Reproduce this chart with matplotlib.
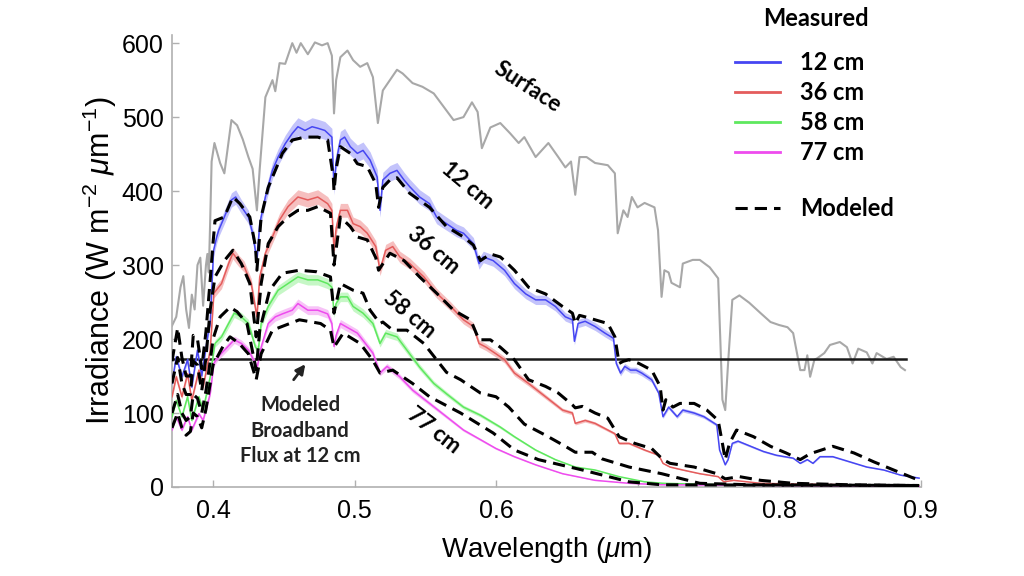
import numpy as np
import matplotlib
matplotlib.use("Agg")
import matplotlib.pyplot as plt

plt.rcParams["font.family"] = ["Liberation Sans", "DejaVu Sans"]
plt.rcParams["mathtext.fontset"] = "custom"
plt.rcParams["mathtext.rm"] = "Liberation Sans"
plt.rcParams["mathtext.it"] = "Liberation Sans:italic"

# (wavelength um, irradiance W m-2 um-1)
surface = [
    (0.371, 218), (0.374, 230), (0.377, 270), (0.379, 285), (0.381, 240), (0.383, 215),
    (0.385, 260), (0.387, 240), (0.389, 300), (0.391, 310), (0.393, 245), (0.395, 300),
    (0.396, 315), (0.397, 290), (0.398, 360), (0.399, 440), (0.401, 465), (0.405, 438),
    (0.408, 424), (0.413, 496), (0.417, 489), (0.421, 470), (0.425, 446), (0.428, 430),
    (0.431, 374), (0.433, 430), (0.437, 527), (0.442, 550), (0.444, 535), (0.447, 573),
    (0.451, 572), (0.456, 600), (0.459, 587), (0.462, 600), (0.467, 585), (0.472, 601),
    (0.477, 597), (0.481, 600), (0.484, 583), (0.4855, 505), (0.487, 550), (0.490, 581),
    (0.495, 590), (0.499, 577), (0.504, 568), (0.509, 573), (0.513, 554), (0.5165, 492),
    (0.520, 536), (0.525, 550), (0.530, 564), (0.534, 559), (0.541, 546), (0.548, 541),
    (0.556, 532), (0.563, 514), (0.570, 496), (0.577, 500), (0.583, 520), (0.587, 507),
    (0.590, 458), (0.596, 486), (0.603, 492), (0.610, 478), (0.616, 465), (0.620, 473),
    (0.628, 446), (0.637, 465), (0.644, 446), (0.649, 432), (0.653, 440), (0.656, 395),
    (0.659, 446), (0.664, 446), (0.670, 438), (0.679, 435), (0.684, 424), (0.686, 343),
    (0.690, 374), (0.693, 365), (0.696, 392), (0.700, 378), (0.705, 384), (0.712, 378),
    (0.7145, 347), (0.717, 257), (0.719, 293), (0.722, 290), (0.724, 276), (0.730, 270),
    (0.732, 302), (0.739, 307), (0.744, 307), (0.751, 297), (0.757, 282), (0.760, 118),
    (0.762, 104), (0.764, 167), (0.767, 253), (0.772, 259), (0.779, 249), (0.787, 235),
    (0.794, 223), (0.800, 219), (0.806, 216), (0.810, 208), (0.815, 158), (0.818, 158),
    (0.820, 178), (0.822, 149), (0.825, 172), (0.827, 174), (0.832, 181), (0.836, 192),
    (0.843, 196), (0.848, 189), (0.852, 167), (0.856, 187), (0.862, 182), (0.866, 167),
    (0.869, 181), (0.876, 173), (0.881, 176), (0.886, 162), (0.889, 158),
]

measured_12 = [
    (0.371, 140), (0.374, 176), (0.378, 149), (0.382, 172), (0.385, 135), (0.389, 185),
    (0.392, 150), (0.3965, 207), (0.398, 221), (0.4004, 320), (0.4026, 338), (0.404, 347),
    (0.408, 365), (0.413, 388), (0.416, 392), (0.420, 379), (0.425, 365), (0.428, 343),
    (0.431, 306), (0.433, 356), (0.437, 392), (0.442, 428), (0.446, 446), (0.451, 464),
    (0.456, 478), (0.460, 487), (0.465, 482), (0.470, 487), (0.474, 485), (0.479, 482),
    (0.484, 473), (0.4855, 405), (0.487, 440), (0.490, 469), (0.493, 473), (0.497, 460),
    (0.502, 451), (0.506, 455), (0.511, 442), (0.516, 419), (0.518, 374), (0.520, 415),
    (0.525, 424), (0.530, 428), (0.535, 415), (0.539, 406), (0.546, 392), (0.553, 383),
    (0.558, 365), (0.565, 356), (0.572, 347), (0.577, 343), (0.584, 329), (0.588, 302),
    (0.591, 311), (0.598, 306), (0.606, 293), (0.613, 275), (0.621, 261), (0.628, 253),
    (0.635, 253), (0.642, 244), (0.649, 230), (0.654, 226), (0.6554, 197), (0.658, 221),
    (0.663, 224), (0.670, 217), (0.677, 208), (0.683, 201), (0.685, 167), (0.688, 154),
    (0.691, 163), (0.695, 158), (0.699, 158), (0.703, 154), (0.710, 145), (0.715, 127),
    (0.718, 95), (0.722, 108), (0.728, 95), (0.732, 104), (0.740, 100), (0.747, 95),
    (0.756, 84), (0.758, 50), (0.762, 30), (0.764, 37), (0.767, 59), (0.771, 62),
    (0.780, 55), (0.789, 48), (0.798, 43), (0.810, 39), (0.815, 32), (0.820, 37),
    (0.824, 32), (0.829, 41), (0.838, 41), (0.850, 34), (0.862, 27), (0.874, 23),
    (0.886, 16), (0.899, 12),
]

modeled_12 = [
    (0.371, 170), (0.375, 215), (0.378, 175), (0.381, 150), (0.384, 150), (0.386, 205),
    (0.389, 200), (0.392, 160), (0.395, 210), (0.398, 280), (0.400, 330), (0.4014, 360),
    (0.408, 365), (0.414, 392), (0.419, 383), (0.426, 365), (0.430, 325), (0.431, 293),
    (0.434, 365), (0.439, 405), (0.444, 428), (0.449, 451), (0.456, 469), (0.465, 473),
    (0.474, 473), (0.481, 469), (0.485, 419), (0.4855, 400), (0.487, 430), (0.490, 460),
    (0.497, 451), (0.502, 437), (0.509, 433), (0.515, 410), (0.517, 378), (0.520, 405),
    (0.525, 415), (0.530, 418), (0.539, 397), (0.553, 378), (0.565, 352), (0.577, 338),
    (0.584, 327), (0.589, 306), (0.596, 315), (0.603, 311), (0.606, 306), (0.613, 293),
    (0.623, 270), (0.635, 261), (0.647, 244), (0.654, 235), (0.656, 221), (0.659, 232),
    (0.663, 230), (0.670, 226), (0.679, 221), (0.684, 203), (0.687, 167), (0.690, 170),
    (0.694, 172), (0.701, 167), (0.710, 158), (0.716, 136), (0.718, 104), (0.720, 118),
    (0.725, 108), (0.730, 113), (0.740, 113), (0.749, 104), (0.757, 90), (0.760, 59),
    (0.762, 37), (0.765, 59), (0.770, 77), (0.782, 68), (0.794, 55), (0.805, 46),
    (0.815, 37), (0.822, 45), (0.838, 55), (0.853, 46), (0.867, 34), (0.881, 23),
    (0.899, 9),
]

measured_36 = [
    (0.371, 122), (0.374, 149), (0.378, 122), (0.382, 153), (0.385, 117), (0.390, 158),
    (0.393, 135), (0.398, 185), (0.4006, 262), (0.406, 275), (0.411, 302), (0.414, 316),
    (0.418, 306), (0.422, 298), (0.427, 275), (0.431, 230), (0.433, 284), (0.437, 316),
    (0.442, 338), (0.447, 361), (0.453, 379), (0.460, 392), (0.467, 388), (0.474, 392),
    (0.481, 383), (0.484, 374), (0.4855, 320), (0.487, 350), (0.490, 374), (0.495, 374),
    (0.499, 356), (0.504, 352), (0.509, 343), (0.515, 325), (0.518, 293), (0.522, 320),
    (0.527, 325), (0.532, 311), (0.539, 302), (0.549, 284), (0.558, 262), (0.568, 244),
    (0.577, 226), (0.584, 217), (0.588, 194), (0.593, 189), (0.600, 180), (0.606, 172),
    (0.613, 154), (0.623, 140), (0.635, 122), (0.647, 104), (0.654, 100), (0.656, 86),
    (0.663, 90), (0.670, 86), (0.684, 72), (0.687, 59), (0.694, 59), (0.705, 50),
    (0.715, 43), (0.718, 32), (0.723, 27), (0.732, 23), (0.744, 18), (0.757, 14),
    (0.761, 7), (0.768, 9), (0.787, 5), (0.810, 4), (0.850, 3), (0.899, 2),
]

modeled_36 = [
    (0.371, 140), (0.375, 175), (0.378, 140), (0.381, 125), (0.384, 125), (0.386, 170),
    (0.389, 165), (0.392, 130), (0.395, 175), (0.398, 240), (0.4014, 284), (0.408, 306),
    (0.414, 320), (0.420, 302), (0.426, 275), (0.4305, 203), (0.434, 275), (0.439, 329),
    (0.446, 352), (0.453, 365), (0.460, 374), (0.467, 374), (0.474, 379), (0.483, 370),
    (0.4855, 300), (0.490, 365), (0.497, 352), (0.502, 338), (0.509, 334), (0.515, 310),
    (0.517, 293), (0.525, 316), (0.535, 306), (0.546, 284), (0.558, 262), (0.570, 239),
    (0.582, 226), (0.588, 199), (0.596, 199), (0.603, 189), (0.613, 172), (0.623, 145),
    (0.635, 136), (0.644, 127), (0.654, 111), (0.656, 107), (0.661, 109), (0.670, 100),
    (0.679, 93), (0.687, 68), (0.698, 59), (0.710, 52), (0.718, 37), (0.723, 32),
    (0.740, 27), (0.756, 18), (0.762, 11), (0.772, 14), (0.787, 9), (0.810, 5),
    (0.850, 3), (0.899, 2),
]

measured_58 = [
    (0.371, 95), (0.374, 117), (0.378, 95), (0.382, 122), (0.385, 90), (0.390, 122),
    (0.393, 104), (0.398, 149), (0.4006, 185), (0.4014, 194), (0.406, 203), (0.411, 221),
    (0.415, 235), (0.420, 230), (0.425, 221), (0.430, 189), (0.432, 185), (0.434, 221),
    (0.439, 244), (0.446, 266), (0.453, 275), (0.460, 284), (0.467, 280), (0.474, 280),
    (0.481, 275), (0.484, 270), (0.4855, 235), (0.487, 248), (0.490, 257), (0.495, 257),
    (0.499, 244), (0.506, 235), (0.513, 221), (0.518, 194), (0.522, 208), (0.530, 203),
    (0.537, 185), (0.546, 162), (0.556, 140), (0.565, 126), (0.577, 108), (0.589, 97),
    (0.603, 81), (0.613, 68), (0.628, 50), (0.642, 37), (0.656, 27), (0.670, 23),
    (0.687, 14), (0.705, 7), (0.718, 5), (0.760, 3), (0.899, 2),
]

modeled_58 = [
    (0.371, 100), (0.375, 125), (0.378, 100), (0.381, 90), (0.384, 95), (0.386, 125),
    (0.389, 120), (0.392, 100), (0.395, 130), (0.398, 170), (0.400, 200), (0.405, 230),
    (0.412, 243), (0.417, 237), (0.424, 221), (0.4305, 158), (0.433, 212), (0.440, 266),
    (0.449, 289), (0.461, 293), (0.473, 291), (0.483, 284), (0.4855, 235), (0.490, 275),
    (0.499, 266), (0.506, 262), (0.511, 239), (0.518, 221), (0.520, 223), (0.527, 212),
    (0.537, 212), (0.549, 194), (0.558, 172), (0.565, 155), (0.575, 145), (0.589, 127),
    (0.600, 122), (0.609, 108), (0.620, 85), (0.635, 70), (0.649, 55), (0.656, 47),
    (0.668, 47), (0.675, 38), (0.694, 27), (0.717, 18), (0.744, 5), (0.780, 3),
    (0.899, 2),
]

measured_77 = [
    (0.371, 77), (0.374, 95), (0.378, 77), (0.382, 95), (0.385, 77), (0.390, 99),
    (0.393, 90), (0.398, 126), (0.4006, 167), (0.4036, 176), (0.4106, 190), (0.415, 199),
    (0.420, 194), (0.425, 185), (0.430, 167), (0.431, 160), (0.434, 189), (0.439, 221),
    (0.444, 230), (0.449, 234), (0.456, 239), (0.460, 248), (0.467, 239), (0.474, 239),
    (0.481, 234), (0.484, 221), (0.4855, 190), (0.487, 205), (0.490, 221), (0.502, 208),
    (0.513, 181), (0.518, 154), (0.523, 163), (0.532, 149), (0.541, 131), (0.553, 113),
    (0.565, 95), (0.577, 77), (0.589, 64), (0.600, 52), (0.613, 41), (0.628, 30),
    (0.647, 18), (0.670, 9), (0.694, 5), (0.717, 3), (0.899, 1),
]

modeled_77 = [
    (0.371, 80), (0.375, 100), (0.378, 80), (0.381, 70), (0.384, 75), (0.386, 100),
    (0.389, 95), (0.392, 80), (0.395, 105), (0.398, 140), (0.400, 165), (0.407, 190),
    (0.412, 203), (0.418, 195), (0.425, 180), (0.4305, 145), (0.434, 180), (0.442, 212),
    (0.461, 226), (0.476, 221), (0.483, 212), (0.4855, 189), (0.492, 208), (0.504, 194),
    (0.513, 171), (0.518, 154), (0.527, 158), (0.541, 140), (0.553, 122), (0.575, 100),
    (0.598, 73), (0.613, 50), (0.630, 37), (0.661, 23), (0.694, 7), (0.717, 3),
    (0.899, 2),
]

depth_labels = ["12 cm", "36 cm", "58 cm", "77 cm"]
measured = [measured_12, measured_36, measured_58, measured_77]
modeled = [modeled_12, modeled_36, modeled_58, modeled_77]
line_colors = ["#4646f2", "#e45c5c", "#5ee85e", "#ee4cee"]
band_colors = ["#b4b4fa", "#f4b0b0", "#b8f6b8", "#f6b4f6"]
band_frac = 0.025  # relative spread of the shaded measurement band

broadband_flux_12 = 173
broadband_span = (0.371, 0.890)


def unzip(pairs):
    arr = np.array(pairs, dtype=float)
    return arr[:, 0], arr[:, 1]


fig = plt.figure(figsize=(10.24, 5.76), dpi=100)
ax = fig.add_axes([172 / 1024, 89 / 576, 748.5 / 1024, 452 / 576])

wl, irr = unzip(surface)
ax.plot(wl, irr, color="#a8a8a8", lw=1.5, zorder=2)

ax.plot(broadband_span, [broadband_flux_12] * 2, color="#1a1a1a", lw=1.8, zorder=3)

handles = []
for data, lc, bc in zip(measured, line_colors, band_colors):
    wl, irr = unzip(data)
    ax.fill_between(wl, irr * (1 - band_frac), irr * (1 + band_frac),
                    color=bc, lw=0, alpha=0.8, zorder=4)
    h, = ax.plot(wl, irr, color=lc, lw=1.1, zorder=5)
    handles.append(h)

for data in modeled:
    wl, irr = unzip(data)
    dashed, = ax.plot(wl, irr, color="black", lw=2.2, ls=(0, (4, 2.3)), zorder=6)

ax.set_xlim(0.371, 0.9)
ax.set_ylim(0, 611)
ax.set_xticks([0.4, 0.5, 0.6, 0.7, 0.8, 0.9])
ax.set_xticklabels(["0.4", "0.5", "0.6", "0.7", "0.8", "0.9"])
ax.set_yticks(range(0, 601, 100))
for side in ["top", "right"]:
    ax.spines[side].set_visible(False)
for side in ["left", "bottom"]:
    ax.spines[side].set_color("#b0b0b0")
    ax.spines[side].set_linewidth(1.2)
ax.tick_params(direction="in", length=5, width=1, color="#b0b0b0", labelsize=18)
ax.tick_params(axis="x", pad=9)
ax.tick_params(axis="y", pad=6)
ax.set_xlabel(r"Wavelength ($\mu$m)", fontsize=20, labelpad=8)
ax.set_ylabel(r"Irradiance (W m$^{-2}$ $\mu$m$^{-1}$)", fontsize=22, labelpad=2)

ann = dict(family=["Lato", "DejaVu Sans"], weight="bold", fontsize=16,
           ha="center", va="center")
ax.text(0.622, 540, "Surface", rotation=-33, **ann)
ax.text(0.5795, 408, "12 cm", rotation=-40, **ann)
ax.text(0.556, 320, "36 cm", rotation=-40, **ann)
ax.text(0.539, 233, "58 cm", rotation=-40, **ann)
ax.text(0.556, 77, "77 cm", rotation=-38, **ann)
ax.text(0.4615, 76, "Modeled\nBroadband\nFlux at 12 cm", linespacing=1.35,
        color="#222222", family=["Lato", "DejaVu Sans"], weight="bold",
        fontsize=14.5, ha="center", va="center")
ax.annotate("", xy=(0.4664, 169), xytext=(0.4558, 142),
            arrowprops=dict(arrowstyle="-|>", color="#222222", lw=2,
                            mutation_scale=14))

leg_font = {"family": ["Lato", "DejaVu Sans"], "weight": "bold", "size": 17}
fig.text(816 / 1024, 1 - 18 / 576, "Measured", ha="center", va="center",
         family=["Lato", "DejaVu Sans"], weight="bold", fontsize=17)
leg1 = ax.legend(handles, depth_labels, loc="upper left",
                 bbox_to_anchor=(735 / 1024, 1 - 51 / 576),
                 bbox_transform=fig.transFigure, frameon=False, prop=leg_font,
                 handlelength=1.9, handletextpad=0.85, labelspacing=0.3,
                 borderpad=0, borderaxespad=0)
for line in leg1.get_lines():
    line.set_linewidth(2)
ax.add_artist(leg1)
leg2 = ax.legend([dashed], ["Modeled"], loc="upper left",
                 bbox_to_anchor=(735 / 1024, 1 - 197 / 576),
                 bbox_transform=fig.transFigure, frameon=False, prop=leg_font,
                 handlelength=1.9, handletextpad=0.85, borderpad=0, borderaxespad=0)

fig.savefig("out.png", dpi=100)
